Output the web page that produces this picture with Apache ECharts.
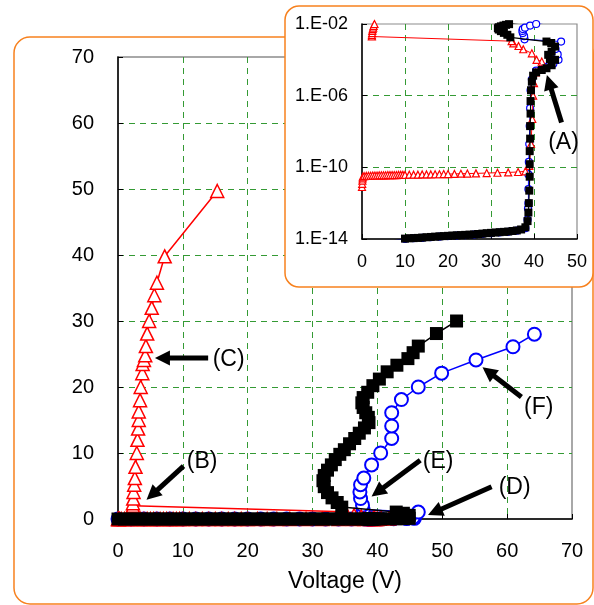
<!DOCTYPE html>
<html>
<head>
<meta charset="utf-8">
<script src="https://cdn.jsdelivr.net/npm/echarts@6/dist/echarts.min.js"></script>
<style>
html, body { margin: 0; padding: 0; background: #fff; }
#chart { width: 594px; height: 605px; }
</style>
</head>
<body>
<div id="chart"></div>
<script>
// values in volts and amps; main plot shows mA, inset shows log10(A)
const redV = [0, 0.05, 0.1, 0.15, 0.2, 0.5, 1, 1.5, 2, 2.5, 3, 3.5, 4, 4.5, 5, 5.5, 6, 6.5, 7, 7.5,
  8, 8.5, 9, 9.5, 10, 11, 12, 13, 14, 15, 16, 17, 18, 19, 20, 21.5, 23, 24.5, 26.5, 29,
  31.5, 34, 36.3, 38,
  38.9, 39.3, 39.6, 39.8, 40.0, 40.4,
  41.8, 40.6, 39.5, 37.5, 36.4, 35.2, 34.8,
  2.3, 2.3, 2.35, 2.4, 2.5, 2.6, 2.7, 2.9, 3.0, 3.1, 3.2, 3.2, 3.4, 3.5, 3.75, 3.8,
  4.0, 4.2, 4.3, 4.5, 4.8, 5.2, 5.6, 6.0, 7.2, 15.3];
const redI = [8e-12, 1.2e-11, 1.8e-11, 2.4e-11, 3e-11, 3.2e-11, 3.3e-11, 3.4e-11, 3.4e-11, 3.5e-11,
  3.5e-11, 3.5e-11, 3.6e-11, 3.6e-11, 3.6e-11, 3.6e-11, 3.7e-11, 3.7e-11, 3.7e-11, 3.7e-11,
  3.7e-11, 3.8e-11, 3.8e-11, 3.8e-11, 3.8e-11, 3.9e-11, 3.9e-11, 3.9e-11, 4e-11, 4e-11,
  4e-11, 4.1e-11, 4.1e-11, 4.2e-11, 4.2e-11, 4.3e-11, 4.4e-11, 4.5e-11, 4.6e-11, 4.8e-11,
  5e-11, 5.2e-11, 5.5e-11, 6e-11,
  1.2e-10, 2e-9, 5e-8, 1e-6, 5e-6, 2e-5,
  8e-5, 1e-4, 2.3e-4, 3.9e-4, 5.9e-4, 8.3e-4, 1.1e-3,
  2.0e-3, 2.4e-3, 3.1e-3, 4.1e-3, 5.2e-3, 6.2e-3, 7.9e-3, 1.0e-2, 1.2e-2, 1.37e-2, 1.5e-2, 1.63e-2,
  1.8e-2, 2.0e-2, 2.21e-2, 2.35e-2, 2.41e-2, 2.48e-2, 2.62e-2, 2.81e-2, 3.0e-2, 3.2e-2, 3.39e-2,
  3.58e-2, 3.98e-2, 4.97e-2];

const blackV = [0, 1, 2, 3, 4, 5, 6, 7, 8, 9, 10, 11, 12, 13, 14, 15, 16, 17, 18, 19,
  20, 21, 22, 23, 24, 25, 26, 27, 28, 29, 30, 31, 32, 33, 34, 35, 36, 37, 38,
  38.5, 38.7, 38.8, 38.9, 39.0, 39.0, 39.0, 39.1, 39.1, 39.2, 39.2, 39.3, 39.5, 39.8, 40.5,
  41.8, 42.9, 44.1, 44.9, 43.7, 43.3, 44.1, 44.9, 44.0, 42.9,
  34.5, 33.8, 33.0, 32.3, 31.8, 31.6, 31.8, 32.3, 32.9, 33.5, 34.2, 34.9, 35.7, 36.5, 37.2, 38.0,
  38.7, 38.6, 38.2, 37.8, 37.6, 37.8, 38.5, 39.3, 40.3, 41.5, 43.0, 44.7, 45.5, 46.3, 49.1, 52.2];
const blackI = [2e-15, 3e-15, 4e-15, 5e-15, 6e-15, 7e-15, 7.5e-15, 8e-15, 8.5e-15, 9e-15,
  1.05e-14, 1.1e-14, 1.12e-14, 1.15e-14, 1.2e-14, 1.25e-14, 1.3e-14, 1.35e-14, 1.4e-14, 1.45e-14,
  1.5e-14, 1.55e-14, 1.6e-14, 1.65e-14, 1.7e-14, 1.75e-14, 1.8e-14, 1.9e-14, 2e-14, 2.1e-14,
  2.2e-14, 2.3e-14, 2.4e-14, 2.5e-14, 2.6e-14, 2.8e-14, 3e-14, 3.4e-14, 4.5e-14,
  1e-13, 3e-13, 1e-12, 5e-12, 3e-11, 1.5e-10, 8e-10, 4e-9, 2e-8, 1e-7, 5e-7, 2e-6, 6e-6, 1.3e-5, 2e-5,
  2.7e-5, 3.4e-5, 5e-5, 1e-4, 1.1e-4, 1.9e-4, 2.9e-4, 5.5e-4, 8.7e-4, 1.05e-3,
  1.8e-3, 2.5e-3, 3.2e-3, 4.0e-3, 4.9e-3, 5.8e-3, 6.6e-3, 7.4e-3, 8.2e-3, 9.0e-3, 9.8e-3, 1.05e-2,
  1.14e-2, 1.22e-2, 1.30e-2, 1.38e-2, 1.46e-2, 1.54e-2, 1.61e-2, 1.69e-2, 1.76e-2, 1.84e-2,
  1.92e-2, 2.02e-2, 2.12e-2, 2.23e-2, 2.33e-2, 2.43e-2, 2.52e-2, 2.62e-2, 2.81e-2, 3.0e-2];

const blueV = [0, 2, 4, 6, 8, 10, 12, 14, 16, 18, 20, 22, 24, 26, 28, 30, 32, 34, 36, 38,
  38.5, 38.6, 38.7, 38.7, 38.7, 38.8, 38.9, 39.0, 39.1, 39.2, 39.5, 40.5, 42.5, 44.5, 45.7, 45.5, 45.0, 46.3,
  37.8, 37.7, 37.4, 37.3, 37.4, 37.9, 39.1, 40.5, 42.2, 42.2, 42.2, 43.7, 46.3, 49.9, 55.2, 60.9, 64.2];
const blueI = [1.5e-15, 3e-15, 5e-15, 7e-15, 8.5e-15, 1e-14, 1.1e-14, 1.15e-14, 1.25e-14, 1.35e-14,
  1.45e-14, 1.55e-14, 1.65e-14, 1.75e-14, 1.9e-14, 2.1e-14, 2.3e-14, 2.5e-14, 2.9e-14, 4e-14,
  1.2e-13, 5e-13, 1e-12, 6e-12, 4e-11, 2e-10, 2e-9, 2e-8, 2e-7, 2e-6, 8e-6, 2.5e-5, 4e-5, 6e-5,
  1e-4, 2e-4, 4e-4, 1.05e-3,
  1.4e-3, 2.1e-3, 3.1e-3, 4.1e-3, 5.2e-3, 6.2e-3, 8.2e-3, 1.0e-2, 1.22e-2, 1.41e-2, 1.61e-2,
  1.81e-2, 2.0e-2, 2.21e-2, 2.41e-2, 2.61e-2, 2.8e-2];

const mainTicks = [0, 70, 10];
const insetXTicks = [0, 50, 10];
const insetYTicks = [-14, -2, 4];

// annotation arrows, in data units of their grid
const notes = [
  { text: '(A)', grid: 1, from: [46.4, -7.5], to: [43.0, -4.85], at: [43.3, -8.6] },
  { text: '(B)', grid: 0, from: [10.1, 8.0], to: [4.4, 2.9], at: [10.6, 8.7] },
  { text: '(C)', grid: 0, from: [13.9, 24.4], to: [5.7, 24.4], at: [14.6, 24.2] },
  { text: '(D)', grid: 0, from: [57.6, 4.9], to: [47.8, 0.6], at: [58.7, 4.7] },
  { text: '(E)', grid: 0, from: [46.6, 8.9], to: [39.1, 3.4], at: [47.0, 8.7] },
  { text: '(F)', grid: 0, from: [62.2, 18.5], to: [56.2, 23.0], at: [62.6, 16.8] }
];

const font = 'Liberation Sans, Arial, sans-serif';
const gridGreen = '#349a34';
const orange = '#f7811e';

const toMain = (vs, is) => vs.map((v, i) => [v, is[i] * 1000]);
const toInset = (vs, is) => vs.map((v, i) => [v, Math.log10(is[i])]);

const looks = {
  red: { symbol: 'triangle', color: '#ff0000', fill: '#fff', border: 1.5 },
  black: { symbol: 'rect', color: '#000', fill: '#000', border: 0 },
  blue: { symbol: 'circle', color: '#0000ff', fill: '#fff', border: 2 }
};

function series(name, data, grid, size, width, z) {
  const look = looks[name];
  return {
    type: 'line',
    xAxisIndex: grid,
    yAxisIndex: grid,
    data,
    z,
    clip: true,
    silent: true,
    animation: false,
    symbol: look.symbol,
    symbolSize: size,
    lineStyle: { color: look.color, width },
    itemStyle: { color: look.fill, borderColor: look.color, borderWidth: grid === 0 ? look.border : Math.min(look.border, 1.2) }
  };
}

function valueAxis(grid, ticks, extra) {
  return Object.assign({
    gridIndex: grid,
    type: 'value',
    min: ticks[0],
    max: ticks[1],
    interval: ticks[2],
    z: grid === 1 ? 20 : 0,
    axisLine: { onZero: false, lineStyle: { color: '#000', width: 1.5 } },
    axisTick: { inside: true, length: 5, lineStyle: { color: '#000' } },
    splitLine: { show: true, showMinLine: false, showMaxLine: false, lineStyle: { color: gridGreen, type: [6, 5], width: 1 } }
  }, extra);
}

const chart = echarts.init(document.getElementById('chart'), null, { renderer: 'canvas' });

chart.setOption({
  animation: false,
  backgroundColor: '#fff',
  grid: [
    { left: 118, top: 57, width: 454, height: 462, show: true, borderColor: '#8c8c8c', borderWidth: 1.5, backgroundColor: 'transparent' },
    { left: 362, top: 24, width: 215, height: 215, show: true, borderColor: '#8c8c8c', borderWidth: 1.2, backgroundColor: '#fff', z: 20 }
  ],
  xAxis: [
    valueAxis(0, mainTicks, {
      axisLabel: { fontSize: 20, color: '#000', margin: 22, fontFamily: font },
      name: 'Voltage (V)', nameLocation: 'middle', nameGap: 51,
      nameTextStyle: { fontSize: 23, color: '#000', fontFamily: font }
    }),
    valueAxis(1, insetXTicks, {
      axisLabel: { fontSize: 18, color: '#000', margin: 14, fontFamily: font }
    })
  ],
  yAxis: [
    valueAxis(0, mainTicks, {
      axisLabel: { fontSize: 20, color: '#000', margin: 24, fontFamily: font }
    }),
    valueAxis(1, insetYTicks, {
      axisLabel: {
        fontSize: 18, color: '#000', margin: 14, fontFamily: font,
        formatter: v => '1.E' + (v < 0 ? '-' : '+') + String(Math.abs(Math.round(v))).padStart(2, '0')
      }
    })
  ],
  series: [
    series('blue', toMain(blueV, blueI), 0, 13, 1.5, 3),
    series('red', toMain(redV, redI), 0, 13, 1.5, 4),
    series('black', toMain(blackV, blackI), 0, 13, 1.5, 5),
    series('blue', toInset(blueV, blueI), 1, 7, 1, 21),
    series('red', toInset(redV, redI), 1, 7, 1, 22),
    series('black', toInset(blackV, blackI), 1, 8, 1.2, 23)
  ]
});

// frames and arrows need pixel positions, so they are added after the layout exists
const graphics = [
  { type: 'rect', z: 0, shape: { x: 14, y: 37, width: 579, height: 567, r: 16 }, style: { fill: 'none', stroke: orange, lineWidth: 1.5 } },
  { type: 'rect', z: 15, shape: { x: 285, y: 6, width: 308, height: 281, r: 14 }, style: { fill: '#fff', stroke: orange, lineWidth: 1.5 } }
];

notes.forEach(n => {
  const tail = chart.convertToPixel({ gridIndex: n.grid }, n.from);
  const tip = chart.convertToPixel({ gridIndex: n.grid }, n.to);
  const pos = chart.convertToPixel({ gridIndex: n.grid }, n.at);
  const dx = tip[0] - tail[0];
  const dy = tip[1] - tail[1];
  const len = Math.sqrt(dx * dx + dy * dy);
  const ux = dx / len, uy = dy / len;
  const headLen = 15, headHalf = 7.5;
  const bx = tip[0] - ux * headLen, by = tip[1] - uy * headLen;
  graphics.push({
    type: 'line', z: 30,
    shape: { x1: tail[0], y1: tail[1], x2: bx + ux * 2, y2: by + uy * 2 },
    style: { stroke: '#000', lineWidth: 5 }
  });
  graphics.push({
    type: 'polygon', z: 30,
    shape: { points: [[tip[0], tip[1]], [bx - uy * headHalf, by + ux * headHalf], [bx + uy * headHalf, by - ux * headHalf]] },
    style: { fill: '#000' }
  });
  graphics.push({
    type: 'text', z: 30, x: pos[0], y: pos[1],
    style: { text: n.text, fontSize: 23, fontFamily: font, fill: '#000', align: 'left', verticalAlign: 'middle' }
  });
});

chart.setOption({ graphic: graphics });
</script>
</body>
</html>
